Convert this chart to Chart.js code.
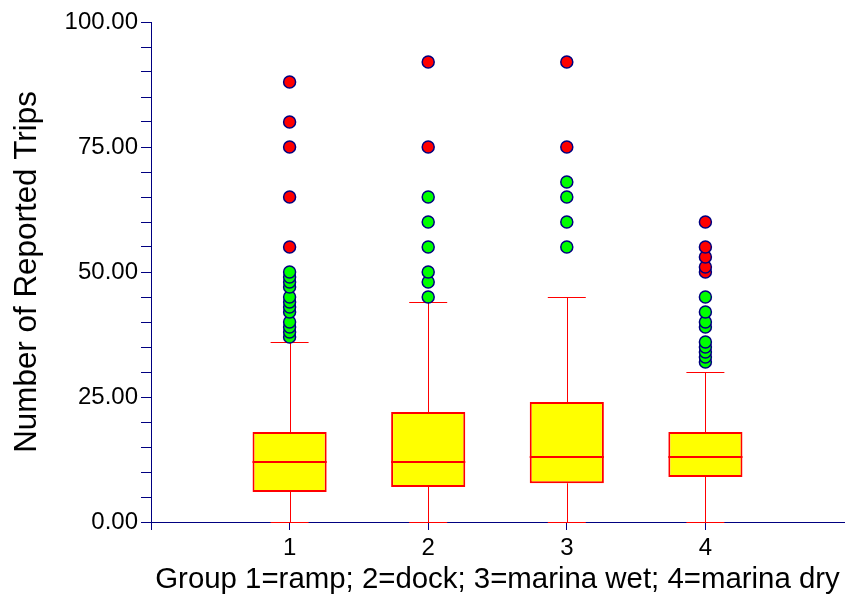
<!DOCTYPE html>
<html>
<head>
<meta charset="utf-8">
<script src="https://cdn.jsdelivr.net/npm/chart.js@4"></script>
<style>
  html, body { margin: 0; padding: 0; background: #fff; }
  #wrap { width: 846px; height: 601px; }
</style>
</head>
<body>
<div id="wrap"><canvas id="boxChart"></canvas></div>
<script>
// box plot values
const groups = [1, 2, 3, 4];
const whiskerLow = [0, 0, 0, 0];
const q1 = [6, 7, 7.75, 9];
const median = [12, 12, 13, 13];
const q3 = [18, 22, 24, 18];
const whiskerHigh = [36, 44, 45, 30];
const mildOutliers = [
    [37, 38, 39, 40, 42, 43, 44, 45, 47, 48, 49, 50],
    [45, 48, 50, 55, 60, 65],
    [55, 60, 65, 68],
    [32, 33, 34, 35, 36, 39, 40, 42, 45]
];
const extremeOutliers = [
    [55, 65, 75, 80, 88],
    [75, 92],
    [75, 92],
    [50, 51, 53, 55, 60]
];
const yTickLabels = [0, 25, 50, 75, 100];

const navy = "#000080";
const red = "#ff0000";

function outlierPoints(lists) {
    const pts = [];
    lists.forEach(function (vals, i) {
        vals.forEach(function (v) { pts.push({ x: groups[i], y: v }); });
    });
    return pts;
}

// whiskers + caps under the boxes, median lines on top
const boxPlotLines = {
    id: "boxPlotLines",
    beforeDatasetsDraw(chart) {
        const { ctx, scales: { x, y } } = chart;
        const capHalf = 0.137;
        ctx.save();
        ctx.strokeStyle = red;
        ctx.lineWidth = 1;
        groups.forEach(function (g, i) {
            const cx = Math.round(x.getPixelForValue(g)) + 0.5;
            const segs = [[whiskerLow[i], q1[i]], [q3[i], whiskerHigh[i]]];
            ctx.beginPath();
            segs.forEach(function (s) {
                ctx.moveTo(cx, y.getPixelForValue(s[0]));
                ctx.lineTo(cx, y.getPixelForValue(s[1]));
            });
            [whiskerLow[i], whiskerHigh[i]].forEach(function (v) {
                const py = Math.round(y.getPixelForValue(v)) + 0.5;
                ctx.moveTo(x.getPixelForValue(g - capHalf), py);
                ctx.lineTo(x.getPixelForValue(g + capHalf), py);
            });
            ctx.stroke();
        });
        ctx.restore();
    },
    afterDatasetsDraw(chart) {
        const { ctx, scales: { x, y } } = chart;
        const half = chart.getDatasetMeta(0).data[0].width / 2;
        ctx.save();
        ctx.strokeStyle = red;
        ctx.lineWidth = 2;
        groups.forEach(function (g, i) {
            const cx = x.getPixelForValue(g);
            const py = y.getPixelForValue(median[i]);
            ctx.beginPath();
            ctx.moveTo(cx - half, py);
            ctx.lineTo(cx + half, py);
            ctx.stroke();
        });
        ctx.restore();
    }
};

Chart.defaults.font.family = "'Liberation Sans', Arial, sans-serif";
Chart.defaults.color = "#000";

const ctx = document.getElementById("boxChart").getContext("2d");
const boxChart = new Chart(ctx, {
    type: "bar",
    data: {
        datasets: [
            {
                type: "bar",
                label: "Boxes",
                data: groups.map(function (g, i) { return { x: g, y: [q1[i], q3[i]] }; }),
                backgroundColor: "#ffff00",
                borderColor: red,
                borderWidth: 2,
                borderSkipped: false,
                barPercentage: 0.535,
                categoryPercentage: 1,
                order: 3
            },
            {
                type: "scatter",
                label: "Mild outliers",
                data: outlierPoints(mildOutliers),
                backgroundColor: "#00ff00",
                borderColor: navy,
                borderWidth: 1.5,
                pointRadius: 6,
                order: 2
            },
            {
                type: "scatter",
                label: "Extreme outliers",
                data: outlierPoints(extremeOutliers),
                backgroundColor: red,
                borderColor: navy,
                borderWidth: 1.5,
                pointRadius: 6,
                order: 1
            }
        ]
    },
    options: {
        responsive: true,
        maintainAspectRatio: false,
        animation: false,
        layout: {
            autoPadding: false,
            padding: { top: 22, right: 2, left: 0, bottom: 0 }
        },
        plugins: {
            legend: { display: false },
            tooltip: { enabled: false }
        },
        scales: {
            x: {
                type: "linear",
                min: 0,
                max: 5,
                offset: false,
                afterFit: function (scale) {
                    scale.height = 79;
                    scale.paddingLeft = 0;
                    scale.paddingRight = 0;
                },
                border: { display: true, color: navy, width: 1 },
                grid: {
                    offset: false,
                    drawOnChartArea: false,
                    drawTicks: true,
                    tickLength: 8,
                    color: function (c) {
                        return c.tick && c.tick.value <= 4 ? navy : "rgba(0,0,0,0)";
                    }
                },
                ticks: {
                    stepSize: 1,
                    autoSkip: false,
                    maxRotation: 0,
                    padding: 4,
                    font: { size: 24 },
                    callback: function (v) { return groups.indexOf(v) >= 0 ? String(v) : ""; }
                },
                title: {
                    display: true,
                    text: "Group 1=ramp; 2=dock; 3=marina wet; 4=marina dry",
                    font: { size: 29.4 },
                    padding: { top: 0, bottom: 3 }
                }
            },
            y: {
                min: 0,
                max: 100,
                afterFit: function (scale) { scale.width = 151; },
                border: { display: true, color: navy, width: 1 },
                grid: {
                    drawOnChartArea: false,
                    drawTicks: true,
                    tickLength: 10,
                    color: navy
                },
                ticks: {
                    stepSize: 5,
                    autoSkip: false,
                    padding: 3,
                    font: { size: 24 },
                    callback: function (v) { return yTickLabels.indexOf(v) >= 0 ? v.toFixed(2) : ""; }
                },
                title: {
                    display: true,
                    text: "Number of Reported Trips",
                    font: { size: 31.4 },
                    padding: { top: 9, bottom: 0 }
                }
            }
        }
    },
    plugins: [boxPlotLines]
});
</script>
</body>
</html>
